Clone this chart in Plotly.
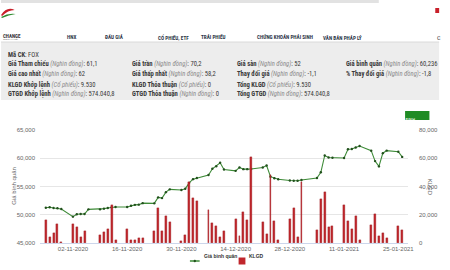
import plotly.graph_objects as go

# ---------------- data ----------------
dates = [
    "2020-10-26", "2020-10-27", "2020-10-28", "2020-10-29", "2020-10-30",
    "2020-11-02", "2020-11-03", "2020-11-04", "2020-11-05", "2020-11-06",
    "2020-11-09", "2020-11-10", "2020-11-11", "2020-11-12", "2020-11-13",
    "2020-11-16", "2020-11-17", "2020-11-18", "2020-11-19", "2020-11-20",
    "2020-11-23", "2020-11-24", "2020-11-25", "2020-11-26", "2020-11-27",
    "2020-11-30", "2020-12-01", "2020-12-02", "2020-12-03", "2020-12-04",
    "2020-12-07", "2020-12-08", "2020-12-09", "2020-12-10", "2020-12-11",
    "2020-12-14", "2020-12-15", "2020-12-16", "2020-12-17", "2020-12-18",
    "2020-12-21", "2020-12-22", "2020-12-23", "2020-12-24", "2020-12-25",
    "2020-12-28", "2020-12-29", "2020-12-30", "2020-12-31",
    "2021-01-04", "2021-01-05", "2021-01-06", "2021-01-07", "2021-01-08",
    "2021-01-11", "2021-01-12", "2021-01-13", "2021-01-14", "2021-01-15",
    "2021-01-18", "2021-01-19", "2021-01-20", "2021-01-21", "2021-01-22",
    "2021-01-25", "2021-01-26",
]

gia_binh_quan = [
    51250, 51320, 51200, 51140, 51020,
    49660, 50080, 50130, 50130, 50960,
    50960, 51080, 51200, 51340, 51370,
    51380, 51580, 51750, 51790, 52050,
    52020, 53080, 52950, 54000, 54500,
    54380, 54600, 55650, 56300, 56500,
    57040, 58130, 58590, 59210, 58000,
    57770, 58370, 58070, 58070, 58100,
    58370, 58720, 56740, 56450, 56270,
    56060, 56030, 56030, 56150,
    56500, 57510, 60490, 60130, 60100,
    60050, 61590, 61640, 61900, 62170,
    61340, 59500, 58560, 60900, 61350,
    61160, 60236,
]

klgd = [
    16300, 4000, 7300, 13400, 900,
    13400, 11500, 4000, 8700, None,
    5500, 7800, 10200, 26900, 1800,
    10200, 2400, 2400, 3400, 3400,
    8600, 24500, 8500, 19000, 14600,
    1600, 5700, 43400, 31600, 29700,
    23400, 13900, 12000, 4500, 8500,
    16800, 5200, 22200, 16300, 61100,
    14600, 6400, 48000, 15600, 2100,
    16800, 25000, 4000, 43400,
    9200, 31100, 36300, 11100, 12300,
    26900, 15800, 9700, 19100, 2100,
    12500, 20300, 5000, 6900, 3500,
    12000, 9530,
]

tick_dates = ["2020-11-02", "2020-11-16", "2020-11-30", "2020-12-14",
              "2020-12-28", "2021-01-11", "2021-01-25"]
tick_labels = ["02-11-2020", "16-11-2020", "30-11-2020", "14-12-2020",
               "28-12-2020", "11-01-2021", "25-01-2021"]

left_ticks = [45000, 50000, 55000, 60000, 65000]
right_ticks = [0, 20000, 40000, 60000, 80000]

nav_items = ["HNX", "ĐẤU GIÁ", "CỔ PHIẾU, ETF", "TRÁI PHIẾU",
             "CHỨNG KHOÁN PHÁI SINH", "VĂN BẢN PHÁP LÝ"]

info_rows = [
    # (column x px, row y px, label, unit, value)
    (5, 55, "Mã CK", None, "FOX"),
    (5, 64, "Giá Tham chiếu", "Nghìn đồng", "61,1"),
    (5, 74, "Giá cao nhất", "Nghìn đồng", "62"),
    (5, 84, "KLGD Khớp lệnh", "Cổ phiếu", "9.530"),
    (5, 93.5, "GTGD Khớp lệnh", "Nghìn đồng", "574.040,8"),
    (132, 64, "Giá trần", "Nghìn đồng", "70,2"),
    (132, 74, "Giá thấp nhất", "Nghìn đồng", "58,2"),
    (132, 84, "KLGD Thỏa thuận", "Cổ phiếu", "0"),
    (132, 93.5, "GTGD Thỏa thuận", "Nghìn đồng", "0"),
    (240, 64, "Giá sàn", "Nghìn đồng", "52"),
    (240, 74, "Thay đổi giá", "Nghìn đồng", "-1,1"),
    (240, 84, "Tổng KLGD", "Cổ phiếu", "9.530"),
    (240, 93.5, "Tổng GTGD", "Nghìn đồng", "574.040,8"),
    (352, 64, "Giá bình quân", "Nghìn đồng", "60,236"),
    (352, 74, "% Thay đổi giá", "Nghìn đồng", "-1,8"),
]

# ---------------- geometry helpers (pixel -> paper) ----------------
W, H = 450, 270
ML, MR, MT, MB = 40, 32, 130, 27
PW, PH = W - ML - MR, H - MT - MB


def X(px):
    return (px - ML) / PW


def Y(py):
    return (H - MB - py) / PH


GREEN = "#3d8b37"
RED = "#c0262c"
PAGE_FONT = "Liberation Sans Narrow, Roboto Condensed, Roboto, sans-serif"
CHART_FONT = "Liberation Sans, Arial, sans-serif"

fig = go.Figure()
fig.add_trace(go.Scatter(
    x=dates, y=gia_binh_quan, name="Giá bình quân", mode="lines+markers",
    line=dict(color=GREEN, width=1.1),
    marker=dict(size=2.4, color="#22501d"),
    showlegend=False,
))
fig.add_trace(go.Bar(
    x=dates, y=klgd, name="KLGD", yaxis="y2",
    marker=dict(color=RED, line=dict(width=0.3, color="#8e1418")),
    width=0.5 * 86400000,
    showlegend=False,
))

shapes = []
annotations = []

# top grey band
shapes.append(dict(type="rect", xref="paper", yref="paper", layer="below",
                   x0=X(0), x1=X(388), y0=Y(0), y1=Y(3),
                   fillcolor="#e2e2e2", line=dict(width=0)))
# info box
shapes.append(dict(type="rect", xref="paper", yref="paper", layer="below",
                   x0=X(0), x1=X(450), y0=Y(42), y1=Y(100),
                   fillcolor="#ededed", line=dict(width=0)))
shapes.append(dict(type="line", xref="paper", yref="paper", layer="below",
                   x0=X(0), x1=X(450), y0=Y(42), y1=Y(42),
                   line=dict(color="#dadada", width=1)))
# logo swooshes
shapes.append(dict(type="path", xref="paper", yref="paper",
                   path=f"M {X(0)},{Y(15)} Q {X(6)},{Y(6)} {X(14)},{Y(10)} Q {X(7)},{Y(10)} {X(1)},{Y(16)} Z",
                   fillcolor="#c8202a", line=dict(width=0)))
shapes.append(dict(type="path", xref="paper", yref="paper",
                   path=f"M {X(0)},{Y(17)} Q {X(7)},{Y(13)} {X(15)},{Y(14)} Q {X(8)},{Y(15)} {X(1)},{Y(18)} Z",
                   fillcolor="#2e8b2e", line=dict(width=0)))
# flag at top right
shapes.append(dict(type="rect", xref="paper", yref="paper",
                   x0=X(446), x1=X(450), y0=Y(8), y1=Y(13),
                   fillcolor="#c8202a", line=dict(width=0)))
# MẶC ĐỊNH button
shapes.append(dict(type="rect", xref="paper", yref="paper",
                   x0=X(415), x1=X(440), y0=Y(111), y1=Y(120),
                   fillcolor="#1f8b24", line=dict(width=0)))
annotations.append(dict(xref="paper", yref="paper", x=X(427.5), y=Y(115.5),
                        text="MẶC ĐỊNH", showarrow=False,
                        font=dict(size=4.5, color="white", family=PAGE_FONT)))

# logo text
annotations.append(dict(xref="paper", yref="paper", x=X(0), y=Y(31), xanchor="left",
                        text="<b>CHANGE</b>", showarrow=False,
                        font=dict(size=5, color="#333", family=PAGE_FONT)))
annotations.append(dict(xref="paper", yref="paper", x=X(0), y=Y(36), xanchor="left",
                        text="SGDCK HÀ NỘI", showarrow=False,
                        font=dict(size=2.5, color="#777", family=PAGE_FONT)))
annotations.append(dict(xref="paper", yref="paper", x=X(446), y=Y(32), xanchor="left",
                        text="C", showarrow=False,
                        font=dict(size=6, color="#333", family=PAGE_FONT)))

# navigation
nav_x = [66, 104.5, 159.5, 218, 291.5, 372.5]
for nx, item in zip(nav_x, nav_items):
    annotations.append(dict(xref="paper", yref="paper", x=X(nx), y=Y(32),
                            text=f"<b>{item}</b>", showarrow=False,
                            font=dict(size=5.2, color="#2b3648", family=PAGE_FONT)))

# info rows
for cx, cy, lab, unit, val in info_rows:
    if unit:
        txt = f"<b>{lab}</b> <i><span style='color:#8a8a8a'>({unit})</span></i>: {val}"
    else:
        txt = f"<b>{lab}</b>: {val}"
    annotations.append(dict(xref="paper", yref="paper", x=X(cx), y=Y(cy),
                            xanchor="left", yanchor="middle", text=txt,
                            showarrow=False,
                            font=dict(size=6.6, color="#3a3a3a", family=PAGE_FONT)))

# axis titles
annotations.append(dict(xref="paper", yref="paper", x=X(8), y=Y(186),
                        text="Giá bình quân", textangle=-90, showarrow=False,
                        font=dict(size=6, color="#666", family=CHART_FONT)))
annotations.append(dict(xref="paper", yref="paper", x=X(446), y=Y(187),
                        text="KLGD", textangle=90, showarrow=False,
                        font=dict(size=6, color="#666", family=CHART_FONT)))

# legend (manual)
LY = 261
shapes.append(dict(type="line", xref="paper", yref="paper",
                   x0=X(194), x1=X(204), y0=Y(LY), y1=Y(LY),
                   line=dict(color=GREEN, width=1.5)))
shapes.append(dict(type="circle", xref="paper", yref="paper",
                   x0=X(197.8), x1=X(200.2), y0=Y(LY - 1.2), y1=Y(LY + 1.2),
                   fillcolor="#22501d", line=dict(width=0)))
annotations.append(dict(xref="paper", yref="paper", x=X(206), y=Y(LY),
                        xanchor="left", text="<b>Giá bình quân</b>", showarrow=False,
                        font=dict(size=5, color="#333", family=CHART_FONT)))
shapes.append(dict(type="rect", xref="paper", yref="paper",
                   x0=X(244), x1=X(251), y0=Y(LY - 3.5), y1=Y(LY + 3.5),
                   fillcolor=RED, line=dict(width=0)))
annotations.append(dict(xref="paper", yref="paper", x=X(253), y=Y(LY),
                        xanchor="left", text="<b>KLGD</b>", showarrow=False,
                        font=dict(size=5, color="#333", family=CHART_FONT)))

fig.update_layout(
    width=W, height=H,
    margin=dict(l=ML, r=MR, t=MT, b=MB, pad=0),
    paper_bgcolor="white", plot_bgcolor="white",
    showlegend=False,
    bargap=0,
    font=dict(family=CHART_FONT, size=6, color="#666"),
    xaxis=dict(type="date", range=["2020-10-24 12:00", "2021-01-27 12:00"],
               tickvals=tick_dates, ticktext=tick_labels,
               showgrid=False, showline=True, linecolor="#ccd6eb", linewidth=1,
               ticks="", tickfont=dict(size=6, color="#666"),
               ticklabelstandoff=0, fixedrange=True),
    yaxis=dict(range=[45000, 65000], tickvals=left_ticks, tickformat=",",
               gridcolor="#e6e6e6", gridwidth=1, zeroline=False, showline=False,
               tickfont=dict(size=6, color="#666"), ticklabelstandoff=4),
    yaxis2=dict(range=[0, 80000], tickvals=right_ticks, tickformat=",",
                overlaying="y", side="right", showgrid=False, zeroline=False,
                showline=False, tickfont=dict(size=6, color="#666"),
                ticklabelstandoff=10),
    shapes=shapes,
    annotations=annotations,
)

fig.write_html("out.html")
